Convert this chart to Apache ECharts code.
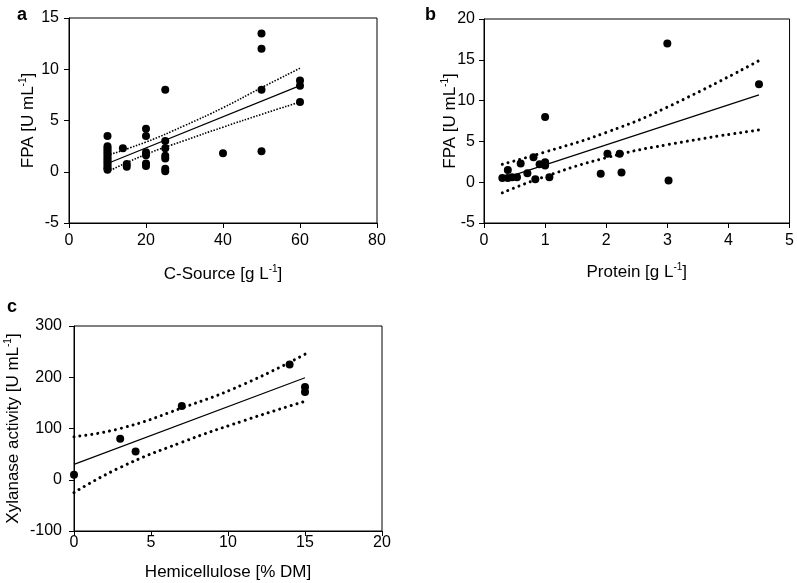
<!DOCTYPE html>
<html>
<head>
<meta charset="utf-8">
<script src="https://cdn.jsdelivr.net/npm/echarts@6/dist/echarts.min.js"></script>
<style>html,body{margin:0;padding:0;background:#fff}#c{width:797px;height:583px}</style>
</head>
<body>
<div id="c"></div>
<script>
// Panel a: C-Source vs FPA
const aPoints = [
  [10,3.5],[10,2.5],[10,2.3],[10,2.1],[10,1.9],[10,1.7],[10,1.5],[10,1.3],[10,1.1],[10,0.9],[10,0.7],[10,0.5],[10,0.35],[10,0.2],
  [14,2.3],[15,0.75],[15,0.5],
  [20,4.2],[20,3.5],[20,1.9],[20,1.6],[20,0.8],[20,0.55],
  [25,8.0],[25,3.0],[25,2.3],[25,1.55],[25,1.3],[25,0.3],[25,0.05],
  [40,1.8],
  [50,13.5],[50,12.0],[50,8.0],[50,2.0],
  [60,8.9],[60,8.4],[60,6.8]
];
const aFit = [[10,0.8],[60,8.4]];
const aUpper = [[10,1.6],[20,2.9],[30,4.5],[40,6.25],[50,8.2],[60,10.1]];
const aLower = [[10,0.0],[20,1.7],[30,3.05],[40,4.35],[50,5.6],[60,6.8]];

// Panel b: Protein vs FPA
const bPoints = [
  [0.3,0.5],[0.39,0.5],[0.46,0.6],[0.54,0.6],[0.39,1.5],[0.6,2.3],[0.71,1.1],[0.81,3.05],[0.84,0.37],
  [0.91,2.2],[1.0,2.45],[1.0,2.05],[1.0,8.0],[1.07,0.6],
  [1.91,1.05],[2.02,3.5],[2.22,3.5],[2.25,1.18],
  [3.0,17.0],[3.02,0.2],[4.5,12.0]
];
const bFit = [[0.3,0.4],[4.5,10.7]];
const bUpper = [[0.3,2.2],[1,3.7],[2,6.1],[3,9.2],[4.5,14.9]];
const bLower = [[0.3,-1.3],[1,0.7],[2,3.0],[3,4.6],[4.5,6.4]];

// Panel c: Hemicellulose vs Xylanase
const cPoints = [[0,10],[3,80],[4,55],[7,144],[14,225],[15,181],[15,171]];
const cFit = [[0,30],[15,199]];
const cUpper = [[0,84],[3,100],[7,140],[11,186],[15,245]];
const cLower = [[0,-25],[3,24],[7,73],[11,115],[15,153]];

const FONT = 'Liberation Sans, Arial, sans-serif';
const rich = { sup: { fontSize: 10, fontFamily: FONT, color: '#000', padding: [0,0,10,0] } };

function xAxis(idx, min, max, interval, name, gap, margin) {
  return {
    gridIndex: idx, type: 'value', min, max, interval,
    name, nameLocation: 'middle', nameGap: gap, nameMoveOverlap: false,
    nameTextStyle: { fontFamily: FONT, fontSize: 17, color: '#000', rich },
    axisLine: { onZero: false, lineStyle: { color: '#000', width: 1 } },
    axisTick: { inside: false, length: 5, lineStyle: { color: '#000' } },
    axisLabel: { fontFamily: FONT, fontSize: 16, color: '#000', margin },
    splitLine: { show: false }
  };
}
function yAxis(idx, min, max, interval, name, gap, margin) {
  return {
    gridIndex: idx, type: 'value', min, max, interval,
    name, nameLocation: 'middle', nameGap: gap, nameRotate: 90, nameMoveOverlap: false,
    nameTextStyle: { fontFamily: FONT, fontSize: 17, color: '#000', rich },
    axisLine: { onZero: false, lineStyle: { color: '#000', width: 1 } },
    axisTick: { inside: false, length: 5, lineStyle: { color: '#000' } },
    axisLabel: { fontFamily: FONT, fontSize: 16, color: '#000', margin },
    splitLine: { show: false }
  };
}
function scatter(idx, data) {
  return { type: 'scatter', xAxisIndex: idx, yAxisIndex: idx, data, symbol: 'circle', symbolSize: 8,
    itemStyle: { color: '#000', opacity: 1 }, z: 3, silent: true };
}
function line(idx, data, style) {
  return { type: 'line', xAxisIndex: idx, yAxisIndex: idx, data, showSymbol: false, smooth: style.smooth || false,
    lineStyle: Object.assign({ color: '#000', opacity: 1 }, style.ls), silent: true, z: 2 };
}
const solid = { ls: { width: 1.2, type: 'solid' } };
const dotA = { smooth: true, ls: { width: 1.6, type: [1.5, 1.5] } };
const dotB = { smooth: true, ls: { width: 3, type: [0.01, 6], cap: 'round' } };

const chart = echarts.init(document.getElementById('c'), null, { renderer: 'canvas' });
chart.setOption({
  animation: false,
  backgroundColor: '#fff',
  title: [
    { text: 'a', left: 12, top: 1, textStyle: { fontFamily: FONT, fontSize: 18, fontWeight: 'bold', color: '#000' } },
    { text: 'b', left: 420, top: 1, textStyle: { fontFamily: FONT, fontSize: 18, fontWeight: 'bold', color: '#000' } },
    { text: 'c', left: 2, top: 293, textStyle: { fontFamily: FONT, fontSize: 18, fontWeight: 'bold', color: '#000' } }
  ],
  grid: [
    { left: 69, top: 18, width: 308, height: 205, show: true, borderColor: '#000', borderWidth: 1 },
    { left: 484, top: 19, width: 306, height: 204, show: true, borderColor: '#000', borderWidth: 1 },
    { left: 74, top: 326, width: 308, height: 205, show: true, borderColor: '#000', borderWidth: 1 }
  ],
  xAxis: [
    xAxis(0, 0, 80, 20, 'C-Source [g L{sup|-1}]', 41, 10),
    xAxis(1, 0, 5, 1, 'Protein [g L{sup|-1}]', 39, 10),
    xAxis(2, 0, 20, 5, 'Hemicellulose [% DM]', 33, 4)
  ],
  yAxis: [
    yAxis(0, -5, 15, 5, 'FPA [U mL{sup|-1}]', 31, 10),
    yAxis(1, -5, 20, 5, 'FPA [U mL{sup|-1}]', 24, 9),
    yAxis(2, -100, 300, 100, 'Xylanase activity [U mL{sup|-1}]', 51, 12)
  ],
  series: [
    scatter(0, aPoints), line(0, aFit, solid), line(0, aUpper, dotA), line(0, aLower, dotA),
    scatter(1, bPoints), line(1, bFit, solid), line(1, bUpper, dotB), line(1, bLower, dotB),
    scatter(2, cPoints), line(2, cFit, solid), line(2, cUpper, dotB), line(2, cLower, dotB)
  ]
});
</script>
</body>
</html>
